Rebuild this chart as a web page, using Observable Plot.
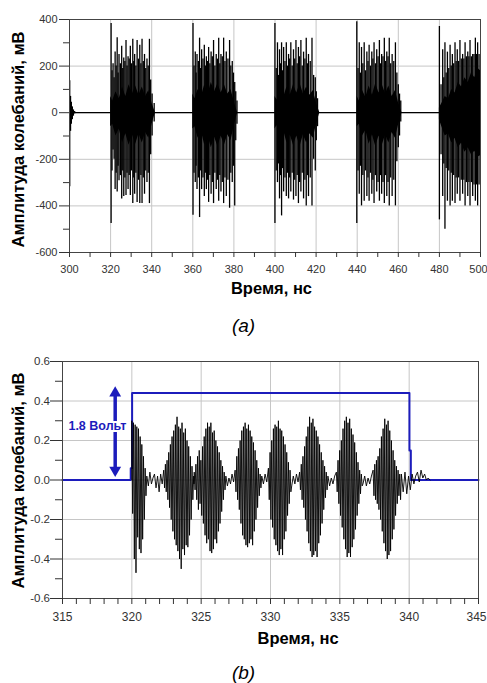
<!DOCTYPE html>
<html><head><meta charset="utf-8">
<script src="https://cdn.jsdelivr.net/npm/d3@7"></script>
<script src="https://cdn.jsdelivr.net/npm/@observablehq/plot@0.6"></script>
<style>
body{margin:0;background:#fff;}
#root{position:relative;width:487px;height:683px;overflow:hidden;font-family:"Liberation Sans",Arial,sans-serif;background:#fff;}
#root svg{position:absolute;left:0;}
.cap{position:absolute;left:0;width:487px;text-align:center;font-style:italic;font-size:19px;line-height:22px;color:#000;}
</style></head><body><div id="root"></div>
<script>
// ---------- Panel (a) data ----------
const xMajorA = [300, 320, 340, 360, 380, 400, 420, 440, 460, 480];
const xLastA = [500];
const xMinorA = [310, 330, 350, 370, 390, 410, 430, 450, 470, 490];
const yMajorA = [-600, -400, -200, 0, 200, 400];
const yMinorA = [-500, -300, -100, 100, 300];

// tall spikes: times (ns), upper peak, lower peak (mV)
const spikeT0 = [300.1, 300.5, 300.9, 301.4, 301.9, 302.5];
const spikeHi0 = [137, 70, 45, 25, 12, 5];
const spikeLo0 = [-318, -80, -50, -30, -15, -5];

const spikeT1 = [320.25, 321.2, 322.2, 323.2, 324.1, 325.4, 326.4, 327.5, 328.5, 329.6, 330.8, 331.7, 332.9, 334.2, 335.3, 336.5, 337.7, 338.9, 340.2, 341.2];
const spikeHi1 = [383, 210, 260, 322, 250, 285, 235, 310, 240, 285, 315, 250, 310, 290, 315, 250, 230, 315, 80, 40];
const spikeLo1 = [-475, -160, -330, -340, -292, -370, -360, -355, -330, -355, -390, -350, -385, -390, -390, -350, -300, -390, -100, -40];

const spikeT2 = [360.1, 361.2, 362.05, 363.3, 364.3, 365.6, 366.6, 367.7, 368.9, 370.1, 371.4, 372.6, 373.7, 375.0, 376.3, 377.9, 379.2, 380.4, 381.5];
const spikeHi2 = [383, 260, 250, 320, 270, 290, 240, 280, 260, 310, 250, 320, 250, 320, 260, 310, 220, 130, 50];
const spikeLo2 = [-440, -300, -330, -450, -330, -360, -330, -385, -350, -390, -330, -380, -340, -390, -360, -410, -300, -400, -50];

const spikeT3 = [399.97, 401.2, 402.2, 403.2, 404.2, 405.5, 406.6, 407.7, 409.0, 410.2, 411.4, 412.6, 413.9, 415.2, 416.3, 418.0, 419.6, 420.7];
const spikeHi3 = [383, 300, 270, 300, 280, 300, 250, 300, 270, 310, 280, 310, 260, 320, 250, 320, 150, 60];
const spikeLo3 = [-475, -300, -370, -443, -340, -360, -370, -340, -375, -360, -390, -340, -370, -400, -360, -400, -250, -60];

const spikeT4 = [439.8, 441.0, 442.1, 443.4, 444.7, 445.8, 447.1, 448.2, 449.5, 450.8, 451.9, 453.2, 454.4, 455.6, 457.0, 458.6, 460.0, 461.2];
const spikeHi4 = [390, 300, 280, 300, 260, 290, 260, 300, 270, 310, 250, 320, 260, 320, 250, 300, 120, 50];
const spikeLo4 = [-475, -350, -400, -380, -360, -380, -350, -390, -340, -380, -350, -390, -360, -400, -360, -400, -150, -40];

const spikeT5 = [480.0, 481.6, 482.7, 483.9, 485.2, 486.3, 487.6, 488.7, 490.0, 491.3, 492.5, 493.8, 494.9, 496.2, 497.5, 498.6];
const spikeHi5 = [370, 270, 300, 260, 290, 250, 300, 270, 310, 250, 300, 260, 310, 250, 320, 300];
const spikeLo5 = [-460, -360, -500, -380, -400, -380, -390, -350, -380, -350, -400, -360, -400, -360, -380, -400];

// medium lines between the tall spikes
const midT1 = [320.7, 321.7, 322.7, 323.65, 324.75, 325.9, 326.95, 328.0, 329.05, 330.2, 331.25, 332.3, 333.55, 334.75, 335.9, 337.1, 338.3, 339.5];
const midHi1 = [180, 150, 200, 170, 210, 190, 220, 200, 230, 210, 220, 200, 230, 210, 220, 190, 200, 140];
const midLo1 = [-250, -200, -260, -230, -270, -250, -280, -260, -270, -250, -280, -260, -290, -270, -280, -250, -260, -180];
const midT2 = [360.6, 361.6, 362.7, 363.8, 364.95, 366.1, 367.15, 368.3, 369.5, 370.75, 372.0, 373.15, 374.35, 375.65, 377.1, 378.5, 379.8, 380.9];
const midHi2 = [200, 170, 220, 190, 230, 200, 220, 210, 240, 200, 230, 210, 240, 220, 230, 200, 170, 90];
const midLo2 = [-260, -230, -280, -250, -280, -260, -290, -270, -300, -260, -290, -270, -300, -280, -290, -260, -230, -120];
const midT3 = [400.6, 401.7, 402.7, 403.7, 404.85, 406.05, 407.15, 408.35, 409.6, 410.8, 412.0, 413.25, 414.55, 415.75, 417.15, 418.8, 420.1];
const midHi3 = [190, 160, 210, 180, 220, 200, 230, 200, 230, 210, 240, 200, 230, 210, 220, 160, 90];
const midLo3 = [-250, -220, -270, -240, -280, -260, -280, -260, -290, -270, -300, -260, -290, -270, -280, -200, -120];
const midT4 = [440.4, 441.55, 442.75, 444.05, 445.25, 446.45, 447.65, 448.85, 450.15, 451.35, 452.55, 453.8, 455.0, 456.3, 457.8, 459.3, 460.6];
const midHi4 = [190, 170, 210, 180, 220, 200, 230, 210, 240, 210, 240, 220, 240, 210, 220, 170, 80];
const midLo4 = [-250, -230, -270, -250, -280, -260, -290, -270, -300, -270, -300, -270, -300, -280, -290, -210, -100];
const midT5 = [480.8, 482.15, 483.3, 484.55, 485.75, 486.95, 488.15, 489.35, 490.65, 491.9, 493.15, 494.35, 495.55, 496.85, 498.05, 499.3];
const midHi5 = [120, 150, 170, 190, 200, 210, 220, 220, 230, 230, 240, 240, 240, 250, 250, 250];
const midLo5 = [-180, -220, -240, -250, -260, -270, -280, -280, -290, -290, -300, -300, -300, -310, -310, -310];

// dense core of every burst (ragged edges): time, upper edge, lower edge (mV)
const coreT1 = [320.0, 321.0, 322.6, 324.2, 325.8, 327.4, 329.0, 330.6, 332.2, 333.8, 335.4, 337.0, 338.6, 340.2, 341.8];
const coreHi1 = [70, 50, 90, 60, 110, 70, 120, 80, 115, 75, 110, 70, 95, 40, 0];
const coreLo1 = [-60, -50, -100, -70, -130, -90, -140, -95, -135, -90, -130, -85, -110, -50, 0];
const coreT2 = [360.0, 361.0, 362.6, 364.2, 365.8, 367.4, 369.0, 370.6, 372.2, 373.8, 375.4, 377.0, 378.6, 380.2, 381.8];
const coreHi2 = [80, 60, 100, 70, 120, 80, 130, 90, 125, 85, 120, 80, 100, 45, 0];
const coreLo2 = [-70, -60, -110, -80, -140, -100, -150, -105, -145, -100, -140, -95, -120, -55, 0];
const coreT3 = [400.0, 401.0, 402.6, 404.2, 405.8, 407.4, 409.0, 410.6, 412.2, 413.8, 415.4, 417.0, 418.6, 420.2, 421.8];
const coreHi3 = [70, 55, 95, 65, 110, 75, 120, 85, 125, 80, 110, 75, 95, 40, 0];
const coreLo3 = [-70, -55, -105, -75, -130, -95, -140, -100, -145, -95, -130, -90, -110, -50, 0];
const coreT4 = [440.0, 441.0, 442.6, 444.2, 445.8, 447.4, 449.0, 450.6, 452.2, 453.8, 455.4, 457.0, 458.6, 460.2, 461.8];
const coreHi4 = [70, 50, 95, 65, 115, 75, 125, 85, 120, 80, 115, 70, 95, 40, 0];
const coreLo4 = [-60, -50, -100, -75, -135, -95, -145, -100, -140, -95, -130, -85, -110, -50, 0];
const coreT5 = [480.0, 481.2, 482.8, 484.4, 486.0, 487.6, 489.2, 490.8, 492.4, 494.0, 495.6, 497.2, 498.8, 500.0];
const coreHi5 = [20, 40, 70, 60, 100, 85, 130, 110, 150, 130, 170, 150, 190, 180];
const coreLo5 = [-30, -60, -100, -90, -130, -110, -150, -130, -170, -150, -180, -165, -190, -185];

// ---------- Panel (b) data ----------
const xMajorB = [315, 320, 325, 330, 335, 340];
const xLastB = [345];
const xMinorB = [316, 317, 318, 319, 321, 322, 323, 324, 326, 327, 328, 329, 331, 332, 333, 334, 336, 337, 338, 339, 341, 342, 343, 344];
const yMajorB = [-0.6, -0.4, -0.2, 0, 0.2, 0.4, 0.6];
const yMinorB = [-0.5, -0.3, -0.1, 0.1, 0.3, 0.5];

// supply pulse (blue)
const blueT = [315, 319.92, 319.92, 320.02, 320.02, 340.02, 340.02, 340.12, 340.12, 345];
const blueV = [0, 0, 0.06, 0.06, 0.44, 0.44, 0.15, 0.15, 0, 0];

// double arrow + label
const arrowX = [318.8];
const arrowTop = [0.44];
const arrowBottom = [0.05];
const arrowLabel = ["1.8 Вольт"];

// oscillation packets: start time (ns), alternating upper / lower extremes (mV)
const bStep = 0.06;
const packetStart = [320.0, 322.3, 324.5, 327.45, 329.85, 332.1, 334.75, 337.4];
const tailEnd = 341.5;
const packet1 = [0.30,-0.17, 0.29,-0.40, 0.28,-0.47, 0.27,-0.29, 0.26,-0.35, 0.22,-0.37, 0.18,-0.30, 0.12,-0.20, 0.06,-0.08];
const packet2 = [0.05,-0.04, 0.08,-0.06, 0.10,-0.10, 0.14,-0.14, 0.18,-0.20, 0.22,-0.26, 0.25,-0.30, 0.28,-0.33, 0.32,-0.36, 0.27,-0.40, 0.26,-0.45, 0.29,-0.35, 0.24,-0.38, 0.26,-0.33, 0.20,-0.34, 0.17,-0.28, 0.12,-0.20, 0.07,-0.10];
const packet3 = [0.04,-0.05, 0.08,-0.10, 0.12,-0.15, 0.15,-0.12, 0.10,-0.18, 0.17,-0.22, 0.22,-0.28, 0.26,-0.32, 0.29,-0.30, 0.27,-0.36, 0.29,-0.37, 0.24,-0.35, 0.25,-0.30, 0.20,-0.32, 0.17,-0.26, 0.14,-0.22, 0.10,-0.16, 0.07,-0.10, 0.04,-0.05];
const packet4 = [0.05,-0.06, 0.12,-0.10, 0.16,-0.15, 0.20,-0.22, 0.25,-0.28, 0.27,-0.30, 0.29,-0.33, 0.26,-0.34, 0.28,-0.32, 0.25,-0.30, 0.22,-0.33, 0.19,-0.26, 0.15,-0.20, 0.10,-0.14, 0.06,-0.08, 0.03,-0.04];
const packet5 = [0.06,-0.10, 0.14,-0.20, 0.20,-0.24, 0.26,-0.30, 0.28,-0.33, 0.27,-0.36, 0.30,-0.38, 0.26,-0.35, 0.25,-0.38, 0.22,-0.30, 0.18,-0.26, 0.14,-0.18, 0.09,-0.12, 0.05,-0.06];
const packet6 = [0.04,-0.05, 0.08,-0.10, 0.12,-0.14, 0.17,-0.20, 0.22,-0.26, 0.27,-0.32, 0.32,-0.36, 0.29,-0.39, 0.31,-0.38, 0.27,-0.36, 0.25,-0.39, 0.22,-0.32, 0.18,-0.28, 0.14,-0.22, 0.10,-0.15, 0.07,-0.09, 0.04,-0.05];
const packet7 = [0.04,-0.06, 0.10,-0.12, 0.15,-0.18, 0.20,-0.24, 0.26,-0.30, 0.30,-0.35, 0.32,-0.39, 0.29,-0.37, 0.31,-0.39, 0.26,-0.34, 0.23,-0.30, 0.19,-0.25, 0.14,-0.18, 0.09,-0.12, 0.05,-0.07, 0.03,-0.03];
const packet8 = [0.05,-0.08, 0.08,-0.10, 0.10,-0.12, 0.12,-0.15, 0.16,-0.20, 0.22,-0.26, 0.26,-0.32, 0.31,-0.36, 0.28,-0.40, 0.30,-0.38, 0.25,-0.36, 0.20,-0.30, 0.15,-0.25, 0.10,-0.18, 0.07,-0.12, 0.05,-0.08, 0.03,-0.10];
// quiet wiggles between packets and after the last one
const gap1 = [0.02,-0.03,0.04,-0.02,0.01,0.03,-0.04,0.02,-0.06,0.03,-0.02];
const gap2 = [0.02,-0.02];
const gap3 = [0.02,-0.03,0.01,-0.02,0.03,-0.01];
const gap4 = [0.02,-0.02,0.03,-0.01];
const gap5 = [-0.03,0.02,-0.02,0.03,-0.01];
const gap6 = [0.02,-0.03,0.01,-0.02,0.02];
const gap7 = [-0.02,0.02,-0.03,0.01,-0.02,0.02];
const tail = [0.03,-0.06,0.04,-0.07,0.02,-0.05,0.03,-0.02,0.02,0.04,-0.01,0.05,0.01,0.03,0.00,0.01];

// ---------- build tables ----------
const spikeSets = [[spikeT0, spikeHi0, spikeLo0],[spikeT1, spikeHi1, spikeLo1],[spikeT2, spikeHi2, spikeLo2],[spikeT3, spikeHi3, spikeLo3],[spikeT4, spikeHi4, spikeLo4],[spikeT5, spikeHi5, spikeLo5],
  [midT1, midHi1, midLo1],[midT2, midHi2, midLo2],[midT3, midHi3, midLo3],[midT4, midHi4, midLo4],[midT5, midHi5, midLo5]];
const spikes = spikeSets.flatMap(([T, H, L]) => T.map((t, i) => ({t, hi: H[i], lo: L[i]})));
const coreSets = [[coreT1, coreHi1, coreLo1],[coreT2, coreHi2, coreLo2],[coreT3, coreHi3, coreLo3],[coreT4, coreHi4, coreLo4],[coreT5, coreHi5, coreLo5]];
const cores = coreSets.flatMap(([T, H, L], k) => T.map((t, i) => ({burst: k, t, hi: H[i], lo: L[i]})));

const packets = [packet1, packet2, packet3, packet4, packet5, packet6, packet7, packet8];
const gaps = [gap1, gap2, gap3, gap4, gap5, gap6, gap7, tail];
const sigB = [{t: 320.0, v: 0}];
packets.forEach((p, k) => {
  const t0 = packetStart[k];
  p.forEach((v, i) => sigB.push({t: t0 + i * bStep, v}));
  const tEnd = t0 + p.length * bStep;
  const tNext = k < packets.length - 1 ? packetStart[k + 1] : tailEnd;
  const g = gaps[k];
  g.forEach((v, i) => sigB.push({t: tEnd + i * (tNext - tEnd) / g.length, v}));
});
sigB.push({t: tailEnd, v: 0});
const blue = blueT.map((t, i) => ({t, v: blueV[i]}));

const FONT = "Liberation Sans, Arial, sans-serif";
const TICK = "#333";
const GRID = "#c6c6c6";
const FRAME = "#444";
const BLUE = "#1c1cbc";

// ---------- Panel (a) ----------
const plotA = Plot.plot({
  width: 487, height: 300,
  marginLeft: 69, marginRight: 7, marginTop: 19, marginBottom: 48,
  style: {fontFamily: FONT, fontSize: "11px", background: "transparent", overflow: "visible"},
  x: {domain: [300, 500], label: null},
  y: {domain: [-600, 400], label: null},
  marks: [
    Plot.gridX(xMajorA.concat(xLastA), {stroke: GRID, strokeOpacity: 1}),
    Plot.gridY(yMajorA, {stroke: GRID, strokeOpacity: 1}),
    Plot.ruleY([0], {stroke: "black", strokeWidth: 1.2}),
    Plot.areaY(cores, {x: "t", y1: "lo", y2: "hi", z: "burst", fill: "black"}),
    Plot.ruleX(spikes, {x: "t", y1: "lo", y2: "hi", stroke: "black", strokeWidth: 1.3}),
    Plot.frame({stroke: FRAME}),
    Plot.axisX(xMajorA.concat(xLastA), {tickSize: 5, tickFormat: () => "", stroke: TICK, label: null}),
    Plot.axisX(xMinorA, {tickSize: 5, tickFormat: () => "", stroke: TICK, label: null}),
    Plot.axisX(xMajorA, {tickSize: 0, tickPadding: 13, tickFormat: d => String(d), fill: TICK, fontSize: 11, label: null}),
    Plot.axisX(xLastA, {tickSize: 0, tickPadding: 13, dx: -2, tickFormat: d => String(d), fill: TICK, fontSize: 11, label: null}),
    Plot.axisY(yMajorA, {tickSize: 10, tickFormat: () => "", stroke: TICK, label: null}),
    Plot.axisY(yMinorA, {tickSize: 6, tickFormat: () => "", stroke: TICK, label: null}),
    Plot.axisY(yMajorA, {tickSize: 0, tickPadding: 12, tickFormat: d => String(d), fill: TICK, fontSize: 11, label: null}),
    Plot.text(["Время, нс"], {frameAnchor: "bottom", dx: -3.5, dy: 36.5, textAnchor: "middle", lineAnchor: "middle", fontWeight: "bold", fontSize: 16.5, fill: "black"}),
    Plot.text(["Амплитуда колебаний, мВ"], {frameAnchor: "left", dx: -50.5, dy: 3.5, rotate: -90, textAnchor: "middle", lineAnchor: "middle", fontWeight: "bold", fontSize: 16.5, fill: "black"})
  ]
});
plotA.style.top = "0px";

// ---------- Panel (b) ----------
const plotB = Plot.plot({
  width: 487, height: 343,
  marginLeft: 62, marginRight: 9, marginTop: 21, marginBottom: 85,
  style: {fontFamily: FONT, fontSize: "11px", background: "transparent", overflow: "visible"},
  x: {domain: [315, 345], label: null},
  y: {domain: [-0.6, 0.6], label: null},
  marks: [
    Plot.gridX(xMajorB.concat(xLastB), {stroke: GRID, strokeOpacity: 1}),
    Plot.gridY(yMajorB, {stroke: GRID, strokeOpacity: 1}),
    Plot.line(blue, {x: "t", y: "v", stroke: BLUE, strokeWidth: 2}),
    Plot.line(sigB, {x: "t", y: "v", stroke: "black", strokeWidth: 0.9}),
    Plot.ruleX(arrowX, {x: d => d, y1: arrowBottom[0], y2: arrowTop[0], stroke: BLUE, strokeWidth: 3.5}),
    Plot.dot(arrowX, {x: d => d, y: arrowTop[0], symbol: "triangle", r: 4.4, fill: BLUE, stroke: null}),
    Plot.dot(arrowX, {x: d => d, y: arrowBottom[0], symbol: "triangle", r: 4.4, rotate: 180, fill: BLUE, stroke: null}),
    Plot.text(arrowLabel, {x: 319.6, y: 0.273, textAnchor: "end", fontWeight: "bold", fontSize: 12.5, fill: BLUE, stroke: "white", strokeWidth: 4}),
    Plot.frame({stroke: FRAME}),
    Plot.axisX(xMajorB.concat(xLastB), {tickSize: 6, tickFormat: () => "", stroke: TICK, label: null}),
    Plot.axisX(xMinorB, {tickSize: 6, tickFormat: () => "", stroke: TICK, label: null}),
    Plot.axisX(xMajorB, {tickSize: 0, tickPadding: 14, tickFormat: d => String(d), fill: TICK, fontSize: 12, label: null}),
    Plot.axisX(xLastB, {tickSize: 0, tickPadding: 14, dx: -2, tickFormat: d => String(d), fill: TICK, fontSize: 12, label: null}),
    Plot.axisY(yMajorB, {tickSize: 12, tickFormat: () => "", stroke: TICK, label: null}),
    Plot.axisY(yMinorB, {tickSize: 7, tickFormat: () => "", stroke: TICK, label: null}),
    Plot.axisY(yMajorB, {tickSize: 0, tickPadding: 12.5, tickFormat: d => d.toFixed(1), fill: TICK, fontSize: 11.5, label: null}),
    Plot.text(["Время, нс"], {frameAnchor: "bottom", dx: 27.6, dy: 40.5, textAnchor: "middle", lineAnchor: "middle", fontWeight: "bold", fontSize: 16.5, fill: "black"}),
    Plot.text(["Амплитуда колебаний, мВ"], {frameAnchor: "left", dx: -43.5, dy: 0.5, rotate: -90, textAnchor: "middle", lineAnchor: "middle", fontWeight: "bold", fontSize: 16.5, fill: "black"})
  ]
});
plotB.style.top = "340px";

const root = document.getElementById("root");
root.appendChild(plotA);
root.appendChild(plotB);
const capA = document.createElement("div");
capA.className = "cap"; capA.style.top = "315px"; capA.textContent = "(a)";
const capB = document.createElement("div");
capB.className = "cap"; capB.style.top = "662px"; capB.textContent = "(b)";
root.appendChild(capA);
root.appendChild(capB);
</script></body></html>
